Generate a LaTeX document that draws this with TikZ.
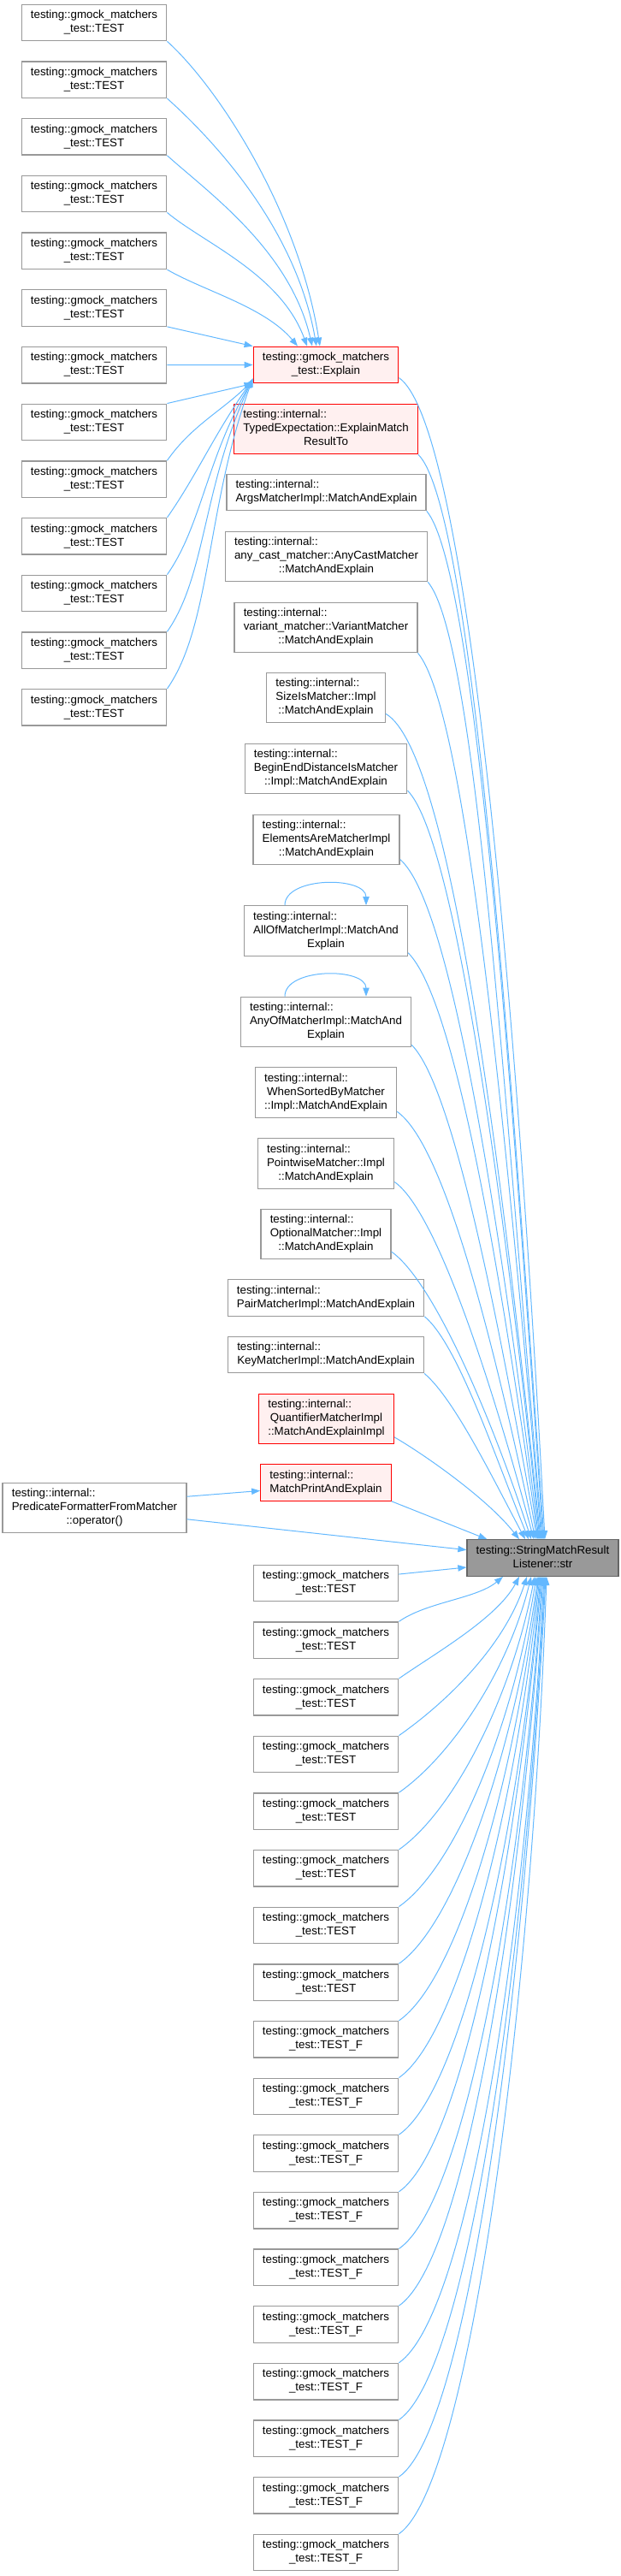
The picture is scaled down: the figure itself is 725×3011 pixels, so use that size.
\documentclass[tikz,border=0pt]{standalone}
\usepackage{fontspec}
\setmainfont{Liberation Sans}
\usepackage{tikz}
\usetikzlibrary{arrows.meta, calc}
\usepackage{xcolor}

\definecolor{callblue}{HTML}{63B8FF}
\definecolor{fnborder}{HTML}{999999}
\definecolor{redborder}{HTML}{FF0000}
\definecolor{redfill}{HTML}{FFF0F0}
\definecolor{mainborder}{HTML}{666666}
\definecolor{mainfill}{HTML}{999999}

% first line flush left, the other lines centred
\newcommand{\fnlines}[2]{\begin{tabular}{@{}c@{}}\multicolumn{1}{@{}l@{}}{#1}\\#2\end{tabular}}

\begin{document}
\begin{tikzpicture}[x=0.75pt, y=0.75pt,
  fn/.style={draw=fnborder, fill=white, line width=1pt, inner xsep=8pt, inner ysep=3.9pt, font=\fontsize{10}{12}\selectfont},
  fnred/.style={fn, draw=redborder, fill=redfill},
  fnmain/.style={fn, draw=mainborder, fill=mainfill},
  call/.style={draw=callblue, line width=0.75pt, -{Triangle[length=7.5pt, width=5.5pt]}}
]
\useasboundingbox (0,0) rectangle (725,-3011);

% Left column (callers of Explain)
\foreach \i in {0,...,12}{\node[fn] (l\i) at (110,{-26.5-66.7*\i}) {\fnlines{testing::gmock\_matchers}{\_test::TEST}};}

% Middle column
\node[fnred] (ex) at (381,-426.5) {\fnlines{testing::gmock\_matchers}{\_test::Explain}};
\node[fnred] (typed) at (381,-501.5) {\fnlines{testing::internal::}{TypedExpectation::ExplainMatch\\ResultTo}};
\node[fn] (args) at (381.5,-575.5) {\fnlines{testing::internal::}{ArgsMatcherImpl::MatchAndExplain}};
\node[fn] (anycast) at (381.5,-650.5) {\fnlines{testing::internal::}{any\_cast\_matcher::AnyCastMatcher\\::MatchAndExplain}};
\node[fn] (variant) at (381,-733.5) {\fnlines{testing::internal::}{variant\_matcher::VariantMatcher\\::MatchAndExplain}};
\node[fn] (sizeis) at (381,-815.5) {\fnlines{testing::internal::}{SizeIsMatcher::Impl\\::MatchAndExplain}};
\node[fn] (beginend) at (381,-898.5) {\fnlines{testing::internal::}{BeginEndDistanceIsMatcher\\::Impl::MatchAndExplain}};
\node[fn] (elements) at (381.5,-981.5) {\fnlines{testing::internal::}{ElementsAreMatcherImpl\\::MatchAndExplain}};
\node[fn] (allof) at (381,-1088) {\fnlines{testing::internal::}{AllOfMatcherImpl::MatchAnd\\Explain}};
\node[fn] (anyof) at (381,-1194.5) {\fnlines{testing::internal::}{AnyOfMatcherImpl::MatchAnd\\Explain}};
\node[fn] (whensorted) at (381,-1277) {\fnlines{testing::internal::}{WhenSortedByMatcher\\::Impl::MatchAndExplain}};
\node[fn] (pointwise) at (381,-1360) {\fnlines{testing::internal::}{PointwiseMatcher::Impl\\::MatchAndExplain}};
\node[fn] (optional) at (381,-1442.5) {\fnlines{testing::internal::}{OptionalMatcher::Impl\\::MatchAndExplain}};
\node[fn] (pair) at (381,-1517) {\fnlines{testing::internal::}{PairMatcherImpl::MatchAndExplain}};
\node[fn] (key) at (381,-1583.5) {\fnlines{testing::internal::}{KeyMatcherImpl::MatchAndExplain}};
\node[fnred] (quant) at (381.5,-1658.5) {\fnlines{testing::internal::}{QuantifierMatcherImpl\\::MatchAndExplainImpl}};
\node[fnred] (mp) at (381,-1733) {\fnlines{testing::internal::}{MatchPrintAndExplain}};
\node[fn] (pred) at (110.5,-1762.5) {\fnlines{testing::internal::}{PredicateFormatterFromMatcher\\::operator()}};
\node[fnmain] (sm) at (634.5,-1821) {\fnlines{testing::StringMatchResult}{Listener::str}};

% Lower column (TEST and TEST_F callers)
\foreach \j in {0,...,7}{\node[fn] (d\j) at (381,{-1850.5-66.65*\j}) {\fnlines{testing::gmock\_matchers}{\_test::TEST}};}
\foreach \j in {8,...,17}{\node[fn] (d\j) at (381,{-1850.5-66.65*\j}) {\fnlines{testing::gmock\_matchers}{\_test::TEST\_F}};}

% Calls into Explain
\foreach \i/\tx/\oa/\od/\ia/\id in {0/-7/-42/80/99/160, 1/-11/-42/75/100/140, 2/-16/-42/65/103/115, 3/-22/-40/55/110/90, 4/-33/-30/50/130/60}
  {\draw[call] (l\i.south east) .. controls +(\oa:\od) and +(\ia:\id) .. ($(ex.north)+(\tx,0)$);}
\draw[call] (l5.south east) -- (ex.north west);
\draw[call] (l6.east) -- (ex.west);
\draw[call] (l7.north east) -- (ex.south west);
\foreach \i/\ty/\od/\ia/\id in {8/4/50/225/50, 9/5/60/235/80, 10/5/70/240/110, 11/6/80/245/140, 12/6/90/250/160}
  {\draw[call] (l\i.north east) .. controls +(55:\od) and +(\ia:\id) .. ($(ex.south west)+(0,\ty)$);}

% Calls into str (from above)
\draw[call] (ex.-10) .. controls +(-35:100) and +(93:600) .. ($(sm.north)+(2.5,0)$);
\draw[call] (typed.south east) .. controls +(-45:90) and +(94:550) .. ($(sm.north)+(1.5,0)$);
\draw[call] (args.south east) .. controls +(-50:90) and +(94:520) .. ($(sm.north)+(0.5,0)$);
\draw[call] (anycast.south east) .. controls +(-50:90) and +(95:480) .. ($(sm.north)+(-0.5,0)$);
\draw[call] (variant.south east) .. controls +(-50:90) and +(95:450) .. ($(sm.north)+(-1.5,0)$);
\draw[call] (sizeis.-15) .. controls +(-30:90) and +(96:420) .. ($(sm.north)+(-2.5,0)$);
\draw[call] (beginend.-15) .. controls +(-45:80) and +(96:380) .. ($(sm.north)+(-3.5,0)$);
\draw[call] (elements.-15) .. controls +(-40:80) and +(97:350) .. ($(sm.north)+(-4.5,0)$);
\draw[call] (allof.-15) .. controls +(-45:80) and +(98:300) .. ($(sm.north)+(-5.5,0)$);
\draw[call] (anyof.-15) .. controls +(-45:70) and +(100:250) .. ($(sm.north)+(-6.5,0)$);
\draw[call] (whensorted.-15) .. controls +(-35:70) and +(102:220) .. ($(sm.north)+(-8.5,0)$);
\draw[call] (pointwise.-15) .. controls +(-35:60) and +(105:190) .. ($(sm.north)+(-10.5,0)$);
\draw[call] (optional.-15) .. controls +(-35:60) and +(108:150) .. ($(sm.north)+(-13.5,0)$);
\draw[call] (pair.south east) .. controls +(-40:50) and +(112:110) .. ($(sm.north)+(-16.5,0)$);
\draw[call] (key.south east) .. controls +(-40:45) and +(118:80) .. ($(sm.north)+(-20.5,0)$);
\draw[call] (quant.-15) .. controls +(-30:40) and +(128:60) .. ($(sm.north)+(-27.5,0)$);
\draw[call] (mp.south east) -- ($(sm.north west)+(24,0)$);

% Self calls
\draw[call] ($(allof.north)+(-48,0)$) .. controls +(0,34) and +(0,34) .. ($(allof.north)+(47,0)$);
\draw[call] ($(anyof.north)+(-48,0)$) .. controls +(0,34) and +(0,34) .. ($(anyof.north)+(47,0)$);

% PredicateFormatterFromMatcher
\draw[call] (pred.7) -- (mp.187);
\draw[call] (pred.-7) -- (sm.174);

% Calls into str (from below)
\draw[call] (d0.7) -- (sm.187);
\foreach \j/\tx/\ia/\da/\db in {1/-46.5/-140/40/40, 2/-27.5/-118/50/55, 3/-18.5/-108/60/90, 4/-13.5/-104/70/120, 5/-9.5/-101/75/150, 6/-7.5/-99/80/180, 7/-5.5/-98/80/210, 8/-4.5/-97/85/240, 9/-3.5/-96/85/270, 10/-2.5/-95/90/300, 11/-1.5/-95/90/330, 12/-0.5/-94/95/360, 13/0.5/-94/95/390, 14/1.5/-93/100/420, 15/2.5/-93/100/450, 16/3.5/-93/100/480, 17/4.5/-92/100/510}
  {\draw[call] (d\j.north east) .. controls +(35:\da) and +(\ia:\db) .. ($(sm.south)+(\tx,0)$);}
\end{tikzpicture}
\end{document}
